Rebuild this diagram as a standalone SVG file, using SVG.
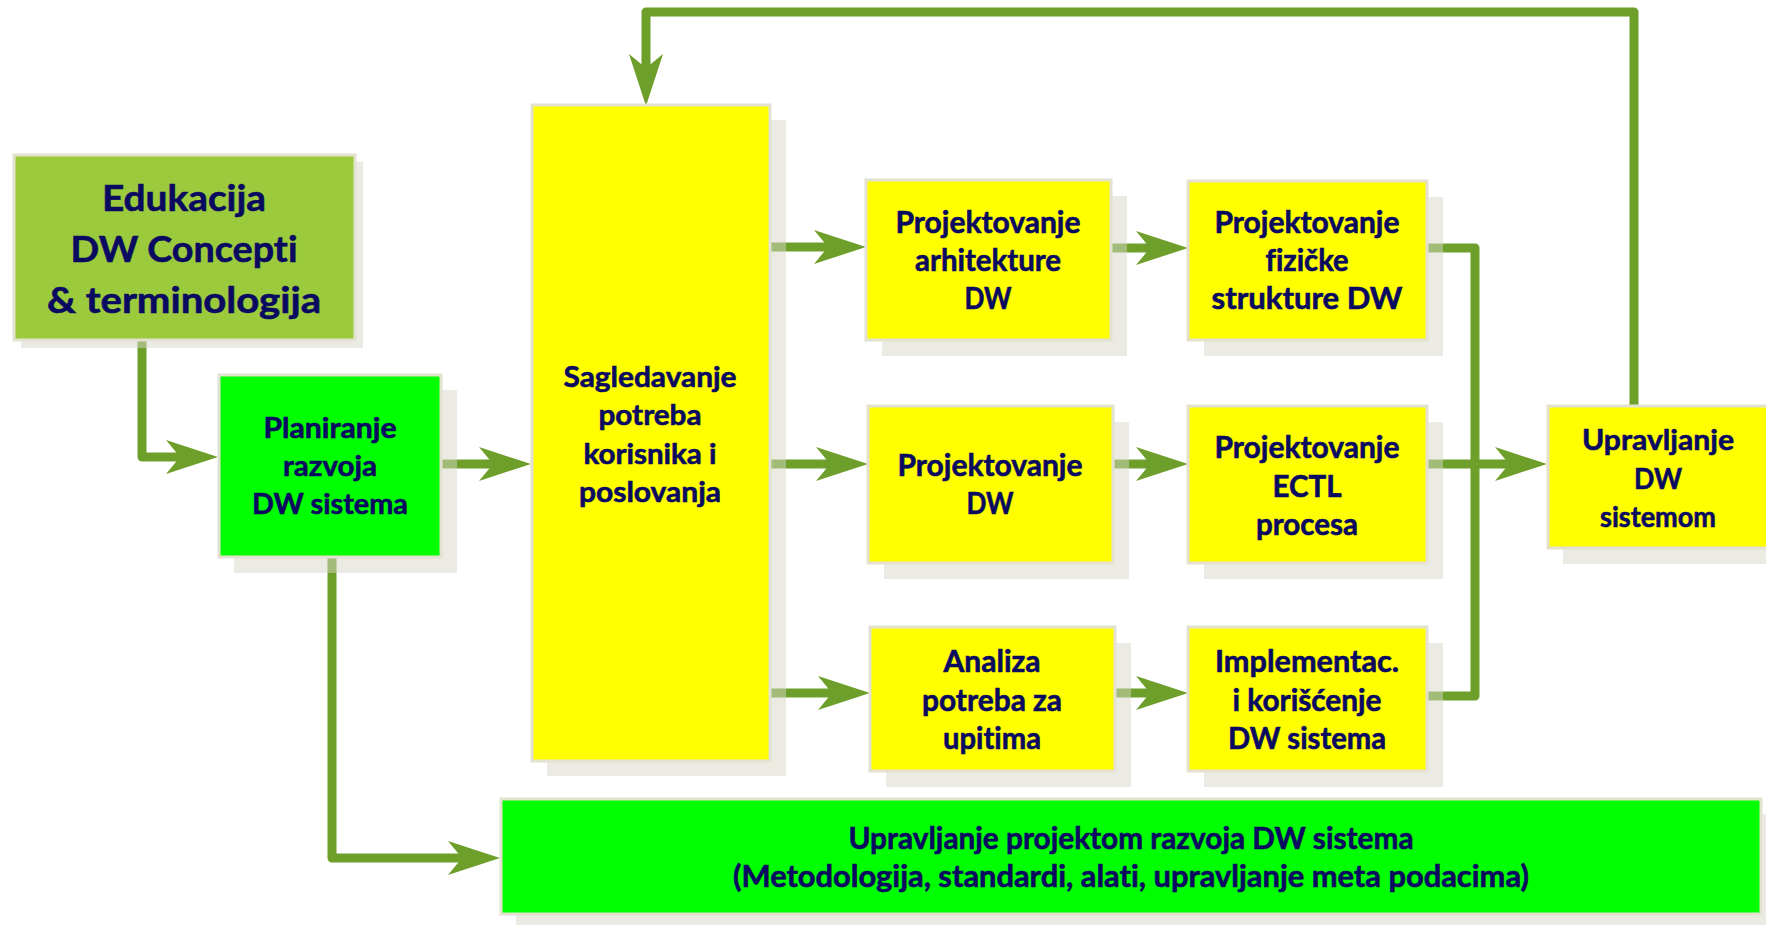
<svg xmlns="http://www.w3.org/2000/svg" width="1766" height="925" viewBox="0 0 1766 925">
<style>
  .shadow { fill: #d7d7c7; opacity: 0.5; }
  .box { stroke: #e3e1cf; stroke-width: 3; }
  .yellow { fill: #ffff00; }
  .green { fill: #00ff00; }
  .olive { fill: #9bcb3c; }
  .conn { fill: none; stroke: #6d9f2a; stroke-width: 9; stroke-linejoin: round; marker-end: url(#arrow); }
  .line { fill: none; stroke: #6d9f2a; stroke-width: 9; stroke-linejoin: round; }
  text { font-family: Lato, "Noto Sans", "DejaVu Sans", sans-serif; font-weight: bold; fill: #0a0a60; stroke: #0a0a60; stroke-width: 0.6; text-anchor: middle; font-variant-ligatures: none; }
  .t42 { font-size: 37px; }
  .t32 { font-size: 28.5px; }
  .t30 { font-size: 30px; }
</style>
<defs>
  <marker id="arrow" markerUnits="userSpaceOnUse" viewBox="0 0 52 34" markerWidth="52" markerHeight="34" refX="14" refY="17" orient="auto">
    <path d="M52,17 L0,0 L14,17 L0,34 Z" fill="#6d9f2a"/>
  </marker>
</defs>
<rect width="1766" height="925" fill="#ffffff"/>

<g id="connectors">
  <path class="conn" d="M142,340 V457 H180"/>
  <path class="conn" d="M441,464 H493"/>
  <path class="conn" d="M332,557 V858 H462"/>
  <path class="conn" d="M770,247 H828"/>
  <path class="conn" d="M770,464 H830"/>
  <path class="conn" d="M770,693 H832"/>
  <path class="conn" d="M1111,248 H1150"/>
  <path class="conn" d="M1113,464 H1150"/>
  <path class="conn" d="M1115,693 H1150"/>
  <path class="line" d="M1427,248 H1475 V696 H1427"/>
  <path class="conn" d="M1427,464 H1509"/>
  <path class="conn" d="M1634,406 V12 H646 V68"/>
</g>

<g id="shadows">
  <rect class="shadow" x="21" y="162" width="342" height="186"/>
  <rect class="shadow" x="234" y="390" width="223" height="183"/>
  <rect class="shadow" x="547" y="120" width="239" height="656"/>
  <rect class="shadow" x="882" y="196" width="245" height="160"/>
  <rect class="shadow" x="1204" y="197" width="239" height="159"/>
  <rect class="shadow" x="884" y="422" width="245" height="157"/>
  <rect class="shadow" x="1204" y="422" width="239" height="157"/>
  <rect class="shadow" x="886" y="643" width="245" height="144"/>
  <rect class="shadow" x="1204" y="643" width="239" height="144"/>
  <rect class="shadow" x="1563" y="422" width="223" height="142"/>
  <rect class="shadow" x="516" y="814" width="1261" height="116"/>
</g>

<g id="edukacija">
  <rect class="box olive" x="14" y="155" width="341" height="185"/>
  <text class="t42" x="184" y="211" textLength="164" lengthAdjust="spacingAndGlyphs">Edukacija</text>
  <text class="t42" x="184" y="262" textLength="227" lengthAdjust="spacingAndGlyphs">DW Concepti</text>
  <text class="t42" x="184" y="313" textLength="274" lengthAdjust="spacingAndGlyphs">&amp; terminologija</text>
</g>

<g id="planiranje">
  <rect class="box green" x="219" y="375" width="222" height="182"/>
  <text class="t32" x="330" y="438" textLength="133" lengthAdjust="spacingAndGlyphs">Planiranje</text>
  <text class="t32" x="330" y="476" textLength="94" lengthAdjust="spacingAndGlyphs">razvoja</text>
  <text class="t32" x="330" y="514" textLength="156" lengthAdjust="spacingAndGlyphs">DW sistema</text>
</g>

<g id="sagledavanje">
  <rect class="box yellow" x="532" y="105" width="238" height="656"/>
  <text class="t32" x="650" y="387" textLength="173" lengthAdjust="spacingAndGlyphs">Sagledavanje</text>
  <text class="t32" x="650" y="425" textLength="103" lengthAdjust="spacingAndGlyphs">potreba</text>
  <text class="t32" x="650" y="464" textLength="133" lengthAdjust="spacingAndGlyphs">korisnika i</text>
  <text class="t32" x="650" y="502" textLength="142" lengthAdjust="spacingAndGlyphs">poslovanja</text>
</g>

<g id="proj-arhitekture">
  <rect class="box yellow" x="866" y="180" width="245" height="160"/>
  <text class="t30" x="988" y="233" textLength="185" lengthAdjust="spacingAndGlyphs">Projektovanje</text>
  <text class="t30" x="988" y="271" textLength="146" lengthAdjust="spacingAndGlyphs">arhitekture</text>
  <text class="t30" x="988" y="309" textLength="47" lengthAdjust="spacingAndGlyphs">DW</text>
</g>

<g id="proj-fizicke">
  <rect class="box yellow" x="1188" y="181" width="239" height="159"/>
  <text class="t30" x="1307" y="233" textLength="185" lengthAdjust="spacingAndGlyphs">Projektovanje</text>
  <text class="t30" x="1307" y="271" textLength="83" lengthAdjust="spacingAndGlyphs">fizičke</text>
  <text class="t30" x="1307" y="309" textLength="191" lengthAdjust="spacingAndGlyphs">strukture DW</text>
</g>

<g id="proj-dw">
  <rect class="box yellow" x="868" y="406" width="245" height="157"/>
  <text class="t30" x="990" y="476" textLength="185" lengthAdjust="spacingAndGlyphs">Projektovanje</text>
  <text class="t30" x="990" y="514" textLength="47" lengthAdjust="spacingAndGlyphs">DW</text>
</g>

<g id="proj-ectl">
  <rect class="box yellow" x="1188" y="406" width="239" height="157"/>
  <text class="t30" x="1307" y="458" textLength="185" lengthAdjust="spacingAndGlyphs">Projektovanje</text>
  <text class="t30" x="1307" y="497" textLength="69" lengthAdjust="spacingAndGlyphs">ECTL</text>
  <text class="t30" x="1307" y="535" textLength="102" lengthAdjust="spacingAndGlyphs">procesa</text>
</g>

<g id="analiza">
  <rect class="box yellow" x="870" y="627" width="245" height="144"/>
  <text class="t30" x="992" y="672" textLength="97" lengthAdjust="spacingAndGlyphs">Analiza</text>
  <text class="t30" x="992" y="711" textLength="140" lengthAdjust="spacingAndGlyphs">potreba za</text>
  <text class="t30" x="992" y="749" textLength="98" lengthAdjust="spacingAndGlyphs">upitima</text>
</g>

<g id="implementacija">
  <rect class="box yellow" x="1188" y="627" width="239" height="144"/>
  <text class="t30" x="1307" y="672" textLength="184" lengthAdjust="spacingAndGlyphs">Implementac.</text>
  <text class="t30" x="1307" y="711" textLength="149" lengthAdjust="spacingAndGlyphs">i korišćenje</text>
  <text class="t30" x="1307" y="749" textLength="158" lengthAdjust="spacingAndGlyphs">DW sistema</text>
</g>

<g id="upravljanje-dw">
  <rect class="box yellow" x="1548" y="406" width="230" height="142"/>
  <text class="t32" x="1658" y="450" textLength="152" lengthAdjust="spacingAndGlyphs">Upravljanje</text>
  <text class="t32" x="1658" y="489" textLength="48" lengthAdjust="spacingAndGlyphs">DW</text>
  <text class="t32" x="1658" y="527" textLength="116" lengthAdjust="spacingAndGlyphs">sistemom</text>
</g>

<g id="upravljanje-projektom">
  <rect class="box green" x="501" y="799" width="1260" height="115"/>
  <text class="t30" x="1131" y="849" textLength="565" lengthAdjust="spacingAndGlyphs">Upravljanje projektom razvoja DW sistema</text>
  <text class="t30" x="1131" y="887" textLength="796" lengthAdjust="spacingAndGlyphs">(Metodologija, standardi, alati, upravljanje meta podacima)</text>
</g>
</svg>
